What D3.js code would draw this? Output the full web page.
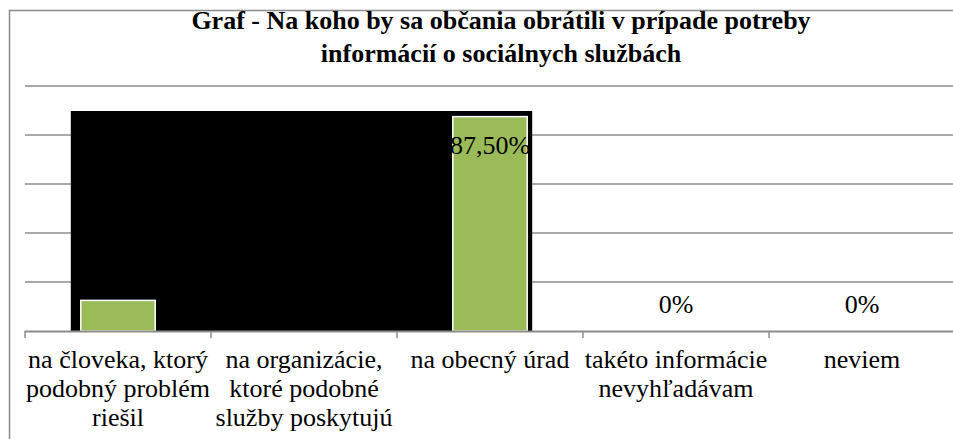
<!DOCTYPE html>
<html><head><meta charset="utf-8">
<script src="https://cdn.jsdelivr.net/npm/d3@7"></script>
<style>body{margin:0;background:#fff}svg{display:block}</style>
</head><body>
<svg id="c" width="953" height="439"></svg>
<script>
const titleLines = ["Graf - Na koho by sa občania obrátili v prípade potreby", "informácií o sociálnych službách"];
const categories = ["na človeka, ktorý podobný problém riešil", "na organizácie, ktoré podobné služby poskytujú", "na obecný úrad", "takéto informácie nevyhľadávam", "neviem"];
const categoryLines = [["na človeka, ktorý", "podobný problém", "riešil"], ["na organizácie,", "ktoré podobné", "služby poskytujú"], ["na obecný úrad"], ["takéto informácie", "nevyhľadávam"], ["neviem"]];
const values = [12.5, 0, 87.5, 0, 0];
const valueLabels = ["12,50%", "0%", "87,50%", "0%", "0%"];
const gridTicks = [20, 40, 60, 80, 100];

(function () {
const FONT = '"Liberation Serif", "Times New Roman", Tinos';
const svg = d3.select("#c");
const W = 953, H = 439;
const pLeft = 25, pRight = 955, pTop = 86, pBottom = 331;

const x = d3.scaleBand().domain(categories).range([pLeft, pRight]);
const y = d3.scaleLinear().domain([0, 100]).range([pBottom, pTop]);
const barW = x.bandwidth() * 0.4;

// outer border
svg.append("path").attr("d", `M9.5,${H} V10.5 H${W}`).attr("fill", "none").attr("stroke", "#8c8c8c").attr("stroke-width", 1.5);

// title
svg.append("g").selectAll("text").data(titleLines).join("text")
  .attr("x", 501).attr("y", (d, i) => 29 + i * 33)
  .attr("text-anchor", "middle")
  .style("font-family", FONT).style("font-weight", "bold").style("font-size", "26px")
  .text(d => d);

// gridlines
svg.append("g").selectAll("line").data(gridTicks).join("line")
  .attr("x1", pLeft).attr("x2", W).attr("y1", d => y(d)).attr("y2", d => y(d))
  .attr("stroke", "#8c8c8c").attr("stroke-width", 1.5);

// black backdrop artifact behind first three categories
const c0 = categories[0], c2 = categories[2];
const bx0 = x(c0) + (x.bandwidth() - barW) / 2 - 10;
const bx1 = x(c2) + (x.bandwidth() + barW) / 2 + 5;
svg.append("rect").attr("x", bx0).attr("y", y(100) + 25).attr("width", bx1 - bx0).attr("height", pBottom + 1 - (y(100) + 25)).attr("fill", "#000");

// bars
svg.append("g").selectAll("rect").data(values).join("rect")
  .attr("x", (d, i) => x(categories[i]) + (x.bandwidth() - barW) / 2)
  .attr("width", barW)
  .attr("y", d => y(d))
  .attr("height", d => pBottom - y(d))
  .attr("fill", "#9bbb59").attr("stroke", "#fff").attr("stroke-width", 1.5);

// value labels
svg.append("g").selectAll("text").data(values).join("text")
  .attr("x", (d, i) => x(categories[i]) + x.bandwidth() / 2)
  .attr("y", d => d > 50 ? y(d) + 37 : y(d) - 18)
  .attr("text-anchor", "middle")
  .style("font-family", FONT).style("font-size", "26px")
  .text((d, i) => valueLabels[i]);

// x axis
svg.append("line").attr("x1", pLeft).attr("x2", W).attr("y1", pBottom + 0.5).attr("y2", pBottom + 0.5)
  .attr("stroke", "#8c8c8c").attr("stroke-width", 2);
svg.append("g").selectAll("line").data(categories).join("line")
  .attr("x1", d => x(d)).attr("x2", d => x(d)).attr("y1", pBottom).attr("y2", pBottom + 7)
  .attr("stroke", "#8c8c8c").attr("stroke-width", 1.5);

// category labels (one text per line)
const rows = [];
categories.forEach((c, i) => categoryLines[i].forEach((t, j) => rows.push({ c, t, j })));
svg.append("g").selectAll("text").data(rows).join("text")
  .attr("x", d => x(d.c) + x.bandwidth() / 2)
  .attr("y", d => 368 + d.j * 29)
  .attr("text-anchor", "middle")
  .style("font-family", FONT).style("font-size", "26px")
  .text(d => d.t);
})();
</script>
</body></html>
